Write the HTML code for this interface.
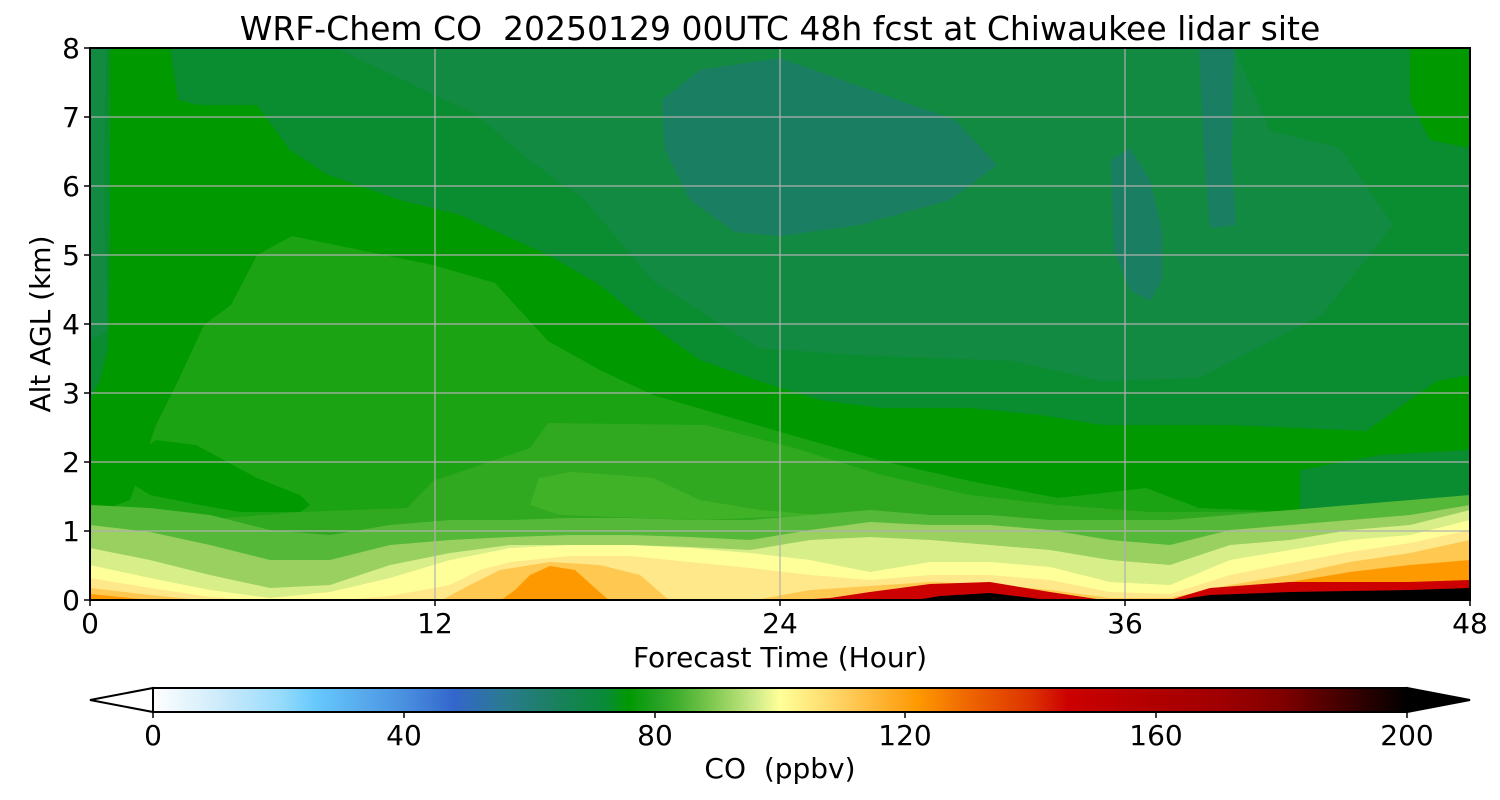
<!DOCTYPE html><html><head><meta charset="utf-8"><style>body{margin:0;background:#fff}svg{display:block}text{font-family:"DejaVu Sans","Liberation Sans",sans-serif;fill:#000;white-space:pre}</style></head><body>
<svg width="1500" height="800" viewBox="0 0 1500 800" xmlns="http://www.w3.org/2000/svg">
<defs>
<linearGradient id="cb" x1="153" x2="1407" y1="0" y2="0" gradientUnits="userSpaceOnUse">
<stop offset="0" stop-color="#ffffff"/><stop offset="0.05" stop-color="#d0ecfa"/><stop offset="0.1" stop-color="#9adcfc"/><stop offset="0.13" stop-color="#66c8fd"/><stop offset="0.2" stop-color="#4a90e0"/><stop offset="0.24" stop-color="#3366cc"/><stop offset="0.28" stop-color="#2a7a90"/><stop offset="0.32" stop-color="#1a8060"/><stop offset="0.36" stop-color="#098a38"/><stop offset="0.38" stop-color="#009900"/><stop offset="0.4" stop-color="#22a022"/><stop offset="0.42" stop-color="#44b030"/><stop offset="0.45" stop-color="#88cc55"/><stop offset="0.48" stop-color="#ccea88"/><stop offset="0.5" stop-color="#ffff99"/><stop offset="0.55" stop-color="#ffd060"/><stop offset="0.59" stop-color="#ffaa22"/><stop offset="0.61" stop-color="#ff9900"/><stop offset="0.65" stop-color="#ee6600"/><stop offset="0.7" stop-color="#dd3300"/><stop offset="0.73" stop-color="#cc0000"/><stop offset="0.8" stop-color="#b00000"/><stop offset="0.85" stop-color="#a00000"/><stop offset="0.9" stop-color="#800000"/><stop offset="0.95" stop-color="#400000"/><stop offset="1" stop-color="#000000"/>
</linearGradient>
<clipPath id="pc"><rect x="90" y="48" width="1380" height="552"/></clipPath>
</defs>
<g clip-path="url(#pc)">
<rect x="90" y="48" width="1380" height="552" fill="#0a8c30"/>
<polygon fill="#138a42" points="336,48 1234,48 1270,131 1340,148 1393,225 1322,315 1199,378 1102,381 1014,361 856,355 759,348 653,281 583,198 530,161 477,115"/>
<polygon fill="#138a42" points="90,48 106,48 104,200 108,331 90,340"/>
<polygon fill="#1a7f62" points="662,100 700,70 780,58 870,90 955,120 997,165 950,200 860,225 780,236 735,232 690,200 665,150"/>
<polygon fill="#1a7f62" points="1199,48 1234,48 1232,160 1236,225 1210,228 1204,150"/>
<polygon fill="#1a7f62" points="1111,160 1130,148 1150,180 1162,230 1162,280 1150,301 1130,290 1114,250"/>
<polygon fill="#009900" points="1410,48 1470,48 1470,148 1430,140 1410,100"/>
<polygon fill="#009900" points="110,48 170,48 178,100 200,105 257,105 290,150 328,175 400,200 460,215 548,255 600,285 636,315 700,360 759,381 820,400 882,408 970,408 1040,415 1102,425 1225,425 1300,428 1366,431 1437,381 1470,375 1470,600 90,600 90,400 100,381 108,348 110,250"/>
<polygon fill="#0a8c30" points="1300,470 1380,455 1470,450 1470,600 1300,600"/>
<polygon fill="#1ca314" points="90,515 130,500 156,425 178,381 204,325 231,305 257,255 292,236 360,250 433,265 495,283 548,341 600,370 653,395 777,431 882,461 970,481 1058,498 1146,488 1199,508 1300,512 1470,498 1470,600 90,600"/>
<polygon fill="#009900" points="156,440 196,445 257,478 300,495 310,505 300,512 240,512 200,505 150,495 110,470"/>
<polygon fill="#30a820" points="90,525 200,520 300,512 407,508 433,481 530,448 548,423 706,425 794,448 882,475 970,495 1058,505 1150,512 1300,512 1400,505 1470,500 1470,600 90,600"/>
<polygon fill="#40b228" points="539,478 570,472 620,475 653,478 700,500 760,510 820,515 700,520 560,515 530,505"/>
<polyline fill="#55b838" points="90,505 150,508 210,515 270,530 330,535 390,525 450,520 510,520 570,518 630,518 690,520 750,520 810,515 870,510 930,515 990,515 1050,520 1110,520 1170,520 1230,515 1290,510 1350,505 1410,500 1470,495 1470,600 90,600"/>
<polyline fill="#99d060" points="90,525 150,532 210,545 270,560 330,560 390,545 450,540 510,537 570,535 630,535 690,537 750,540 810,530 870,522 930,525 990,525 1050,530 1110,540 1170,545 1230,530 1290,525 1350,520 1410,515 1470,505 1470,600 90,600"/>
<polyline fill="#d8ee88" points="90,548 150,560 210,575 270,588 330,585 390,565 450,553 510,545 570,545 630,545 690,547 750,550 810,540 870,537 930,540 990,545 1050,550 1110,560 1170,565 1230,545 1290,540 1350,530 1410,525 1470,510 1470,600 90,600"/>
<polyline fill="#ffff99" points="90,565 150,578 210,590 270,598 330,592 390,578 450,560 510,548 570,545 630,545 690,548 750,553 810,560 870,572 930,562 990,562 1050,567 1110,582 1170,585 1230,560 1290,550 1350,540 1410,535 1470,520 1470,600 90,600"/>
<polyline fill="#ffe88a" points="90,578 150,588 210,597 270,601 330,601 390,596 450,585 480,570 510,562 570,556 630,556 690,562 750,568 810,575 870,580 930,575 990,575 1050,580 1110,592 1170,594 1230,575 1290,563 1350,552 1410,543 1470,530 1470,600 90,600"/>
<polyline fill="#ffc850" points="90,588 150,595 210,601 440,601 470,585 500,570 550,562 600,565 640,575 670,601 750,601 810,590 870,586 930,582 990,584 1050,590 1110,598 1170,598 1230,585 1290,575 1350,562 1410,553 1470,540 1470,600 90,600"/>
<polyline fill="#ff9900" points="90,594 150,600 170,601 500,601 515,590 530,575 550,566 575,570 595,588 610,601 820,601 870,592 930,585 990,588 1050,594 1110,601 1170,601 1230,590 1290,582 1350,572 1410,565 1470,560 1470,600 90,600"/>
<polyline fill="#cc0000" points="90,601 780,601 830,598 870,592 930,584 990,582 1050,592 1110,601 1170,600 1210,588 1290,582 1350,582 1410,582 1470,580 1470,600 90,600"/>
<polyline fill="#000000" points="90,601 910,601 940,596 990,593 1040,599 1170,601 1210,595 1290,592 1350,591 1410,590 1470,588 1470,600 90,600"/>
<g stroke="#b0b0b0" stroke-width="1.2">
<line x1="435" y1="48" x2="435" y2="600"/><line x1="780" y1="48" x2="780" y2="600"/><line x1="1125" y1="48" x2="1125" y2="600"/>
<line x1="90" y1="117" x2="1470" y2="117"/><line x1="90" y1="186" x2="1470" y2="186"/><line x1="90" y1="255" x2="1470" y2="255"/><line x1="90" y1="324" x2="1470" y2="324"/><line x1="90" y1="393" x2="1470" y2="393"/><line x1="90" y1="462" x2="1470" y2="462"/><line x1="90" y1="531" x2="1470" y2="531"/>
</g>
</g>
<rect x="90" y="48" width="1380" height="552" fill="none" stroke="#000" stroke-width="2"/>
<g stroke="#000" stroke-width="1.5">
<line x1="90" y1="600" x2="90" y2="606"/><line x1="435" y1="600" x2="435" y2="606"/><line x1="780" y1="600" x2="780" y2="606"/><line x1="1125" y1="600" x2="1125" y2="606"/><line x1="1470" y1="600" x2="1470" y2="606"/>
<line x1="84" y1="600" x2="90" y2="600"/><line x1="84" y1="531" x2="90" y2="531"/><line x1="84" y1="462" x2="90" y2="462"/><line x1="84" y1="393" x2="90" y2="393"/><line x1="84" y1="324" x2="90" y2="324"/><line x1="84" y1="255" x2="90" y2="255"/><line x1="84" y1="186" x2="90" y2="186"/><line x1="84" y1="117" x2="90" y2="117"/><line x1="84" y1="48" x2="90" y2="48"/>
</g>
<text x="780" y="40" font-size="33" text-anchor="middle">WRF-Chem CO&#160; 20250129 00UTC 48h fcst at Chiwaukee lidar site</text>
<g font-size="28" text-anchor="end">
<text x="80" y="610">0</text><text x="80" y="541">1</text><text x="80" y="472">2</text><text x="80" y="403">3</text><text x="80" y="334">4</text><text x="80" y="265">5</text><text x="80" y="196">6</text><text x="80" y="127">7</text><text x="80" y="58">8</text>
</g>
<g font-size="28" text-anchor="middle">
<text x="90" y="633">0</text><text x="435" y="633">12</text><text x="780" y="633">24</text><text x="1125" y="633">36</text><text x="1470" y="633">48</text>
<text x="780" y="667">Forecast Time (Hour)</text>
</g>
<text transform="translate(50,324) rotate(-90)" font-size="28" text-anchor="middle">Alt AGL (km)</text>
<polygon points="153,688 153,712 90,700" fill="#fff" stroke="#000" stroke-width="2"/>
<polygon points="1407,688 1407,712 1470,700" fill="#000" stroke="#000" stroke-width="2"/>
<rect x="153" y="688" width="1254" height="24" fill="url(#cb)" stroke="#000" stroke-width="2"/>
<g stroke="#000" stroke-width="1.5">
<line x1="153" y1="712" x2="153" y2="718"/><line x1="404" y1="712" x2="404" y2="718"/><line x1="655" y1="712" x2="655" y2="718"/><line x1="905" y1="712" x2="905" y2="718"/><line x1="1156" y1="712" x2="1156" y2="718"/><line x1="1407" y1="712" x2="1407" y2="718"/>
</g>
<g font-size="28" text-anchor="middle">
<text x="153" y="745">0</text><text x="404" y="745">40</text><text x="655" y="745">80</text><text x="905" y="745">120</text><text x="1156" y="745">160</text><text x="1407" y="745">200</text>
<text x="780" y="778">CO&#160; (ppbv)</text>
</g>
</svg>
</body></html>
